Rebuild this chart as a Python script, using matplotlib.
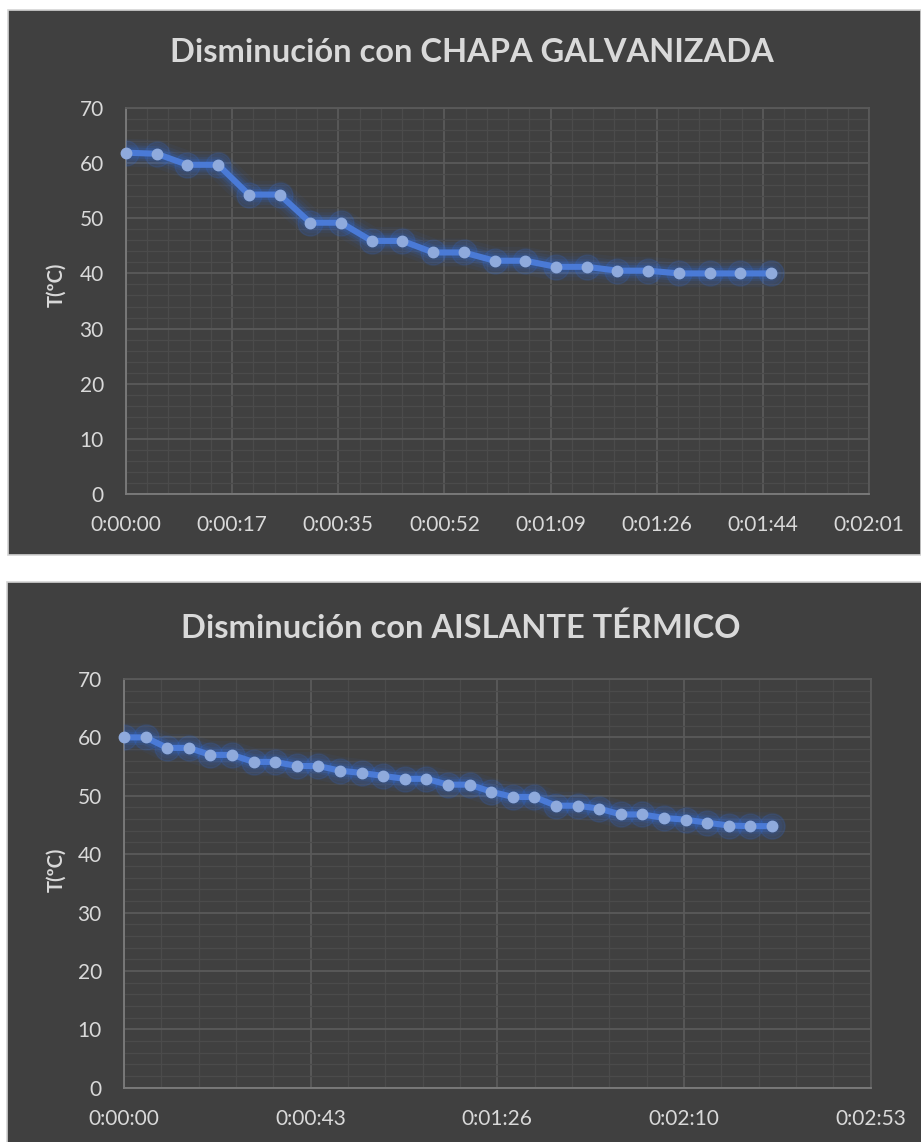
import matplotlib
matplotlib.use("Agg")
import matplotlib.pyplot as plt
from matplotlib.patches import Rectangle
from matplotlib.ticker import MultipleLocator, FuncFormatter

plt.rcParams["font.family"] = ["Lato", "DejaVu Sans"]

# time in seconds, temperature in ºC
t_chapa = [0, 5, 10, 15, 20, 25, 30, 35, 40, 45, 50, 55, 60, 65, 70, 75, 80, 85, 90, 95, 100, 105]
T_chapa = [61.9, 61.7, 59.7, 59.7, 54.3, 54.3, 49.2, 49.2, 45.9, 45.9, 43.8, 43.8,
           42.3, 42.3, 41.2, 41.2, 40.5, 40.5, 40.0, 40.0, 40.0, 40.0]

t_aisl = [0, 5, 10, 15, 20, 25, 30, 35, 40, 45, 50, 55, 60, 65, 70, 75,
          80, 85, 90, 95, 100, 105, 110, 115, 120, 125, 130, 135, 140, 145, 150]
T_aisl = [60.0, 60.0, 58.2, 58.2, 57.0, 57.0, 55.8, 55.8, 55.1, 55.1, 54.3, 53.9,
          53.4, 52.9, 52.9, 51.9, 51.9, 50.7, 49.8, 49.8, 48.3, 48.3, 47.8, 46.8,
          46.8, 46.2, 45.9, 45.4, 44.9, 44.8, 44.8]

titles = ["Disminución con CHAPA GALVANIZADA", "Disminución con AISLANTE TÉRMICO"]
ylabel = "T(ºC)"

# excel time axis: day fractions converted to seconds
xmax = [0.0014 * 86400, 0.002 * 86400]
xmajor = [0.0002 * 86400, 0.0005 * 86400]

BG = "#404040"
TXT = "#d9d9d9"
W, H = 921, 1142


def hms(x, pos):
    s = int(round(x))
    return f"{s // 3600}:{(s // 60) % 60:02d}:{s % 60:02d}"


fig = plt.figure(figsize=(W / 100, H / 100), dpi=100)
fig.patch.set_facecolor("white")

# chart panels (pixel boxes: x0, y0, x1, y1)
panels = [(8, 10, 921, 555), (7, 582, 923, 1145)]
for x0, y0, x1, y1 in panels:
    fig.add_artist(Rectangle((x0 / W, 1 - y1 / H), (x1 - x0) / W, (y1 - y0) / H,
                             transform=fig.transFigure, facecolor=BG,
                             edgecolor="#d4d4d4", lw=1.2, zorder=0))

axes_px = [(126, 108, 869, 494), (124, 679, 870.5, 1087.7)]
title_px = [(472, 53), (461, 628)]
ylab_px = [(56, 285), (56, 870)]
data = [(t_chapa, T_chapa), (t_aisl, T_aisl)]

for i in range(2):
    x0, y0, x1, y1 = axes_px[i]
    ax = fig.add_axes([x0 / W, 1 - y1 / H, (x1 - x0) / W, (y1 - y0) / H])
    ax.set_facecolor(BG)
    t, T = data[i]

    # glow
    for lw, a in [(20, 0.05), (15, 0.08), (11, 0.12), (8, 0.18)]:
        ax.plot(t, T, color="#2f6fe8", lw=lw, alpha=a, solid_capstyle="round",
                solid_joinstyle="round", zorder=3)
    ax.plot(t, T, color="#2f6fe8", lw=0, marker="o", ms=18, alpha=0.14, zorder=3)
    ax.plot(t, T, color="#4a7ad6", lw=4.4, solid_joinstyle="round",
            marker="o", ms=7.5, mfc="#8faadc", mec="#8faadc", zorder=4, clip_on=False)

    ax.set_xlim(0, xmax[i])
    ax.set_ylim(0, 70)
    ax.xaxis.set_major_locator(MultipleLocator(xmajor[i]))
    ax.xaxis.set_minor_locator(MultipleLocator(xmajor[i] / 5))
    ax.yaxis.set_major_locator(MultipleLocator(10))
    ax.yaxis.set_minor_locator(MultipleLocator(2))
    ax.xaxis.set_major_formatter(FuncFormatter(hms))

    ax.grid(which="major", color="#5a5a5a", lw=1.3, zorder=1)
    ax.grid(which="minor", color="#4b4b4b", lw=0.9, zorder=1)
    ax.set_axisbelow(True)
    ax.tick_params(which="both", length=0, colors=TXT, labelsize=15)
    ax.tick_params(axis="x", pad=15)
    ax.tick_params(axis="y", pad=16)
    for s in ["top", "right"]:
        ax.spines[s].set_color("#5a5a5a")
        ax.spines[s].set_linewidth(1.3)
    for s in ["left", "bottom"]:
        ax.spines[s].set_color("#7c7c7c")
        ax.spines[s].set_linewidth(1.3)

    tx, ty = title_px[i]
    fig.text(tx / W, 1 - ty / H, titles[i], ha="center", va="center",
             fontsize=23.5, fontweight="bold", color=TXT)
    lx, ly = ylab_px[i]
    fig.text(lx / W, 1 - ly / H, ylabel, ha="center", va="center", rotation=90,
             fontsize=14.5, fontweight="bold", color=TXT)

fig.savefig("out.png", dpi=100, facecolor="white")
